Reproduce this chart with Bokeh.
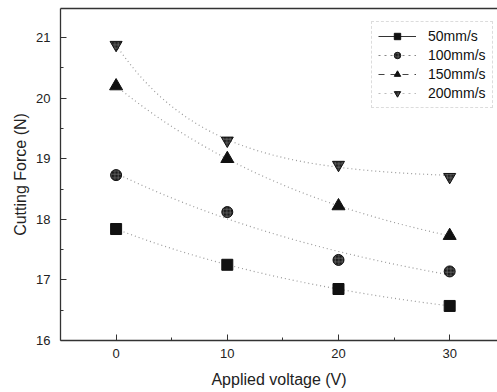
import numpy as np
from bokeh.plotting import figure
from bokeh.models import (Range1d, LinearAxis, FixedTicker, Legend, LegendItem,
                          ColumnDataSource)
from bokeh.embed import file_html
from bokeh.resources import INLINE

# Cutting force vs applied voltage for four cutting speeds
voltage = [0, 10, 20, 30]
force_50 = [17.84, 17.25, 16.85, 16.57]
force_100 = [18.73, 18.12, 17.33, 17.14]
force_150 = [20.20, 19.00, 18.22, 17.73]
force_200 = [20.88, 19.30, 18.90, 18.70]
speed_labels = ["50mm/s", "100mm/s", "150mm/s", "200mm/s"]
x_ticks = [0, 10, 20, 30]
y_ticks = [16, 17, 18, 19, 20, 21]

FONT = "Liberation Sans"


def exp_decay_fit(x, y):
    """Least-squares fit of y = y0 + A*exp(-x/t), scanning t."""
    x = np.asarray(x, float)
    y = np.asarray(y, float)
    best = None
    for t in np.linspace(2, 200, 2000):
        M = np.column_stack([np.ones_like(x), np.exp(-x / t)])
        c, *_ = np.linalg.lstsq(M, y, rcond=None)
        err = np.sum((M @ c - y) ** 2)
        if best is None or err < best[0]:
            best = (err, c, t)
    _, (y0, a), t = best
    return lambda xx: y0 + a * np.exp(-np.asarray(xx) / t)


p = figure(width=497, height=392, output_backend="svg", toolbar_location=None,
           x_range=Range1d(-5, 34.3), y_range=Range1d(16, 21.48),
           min_border_left=60, min_border_bottom=52, min_border_top=8,
           min_border_right=0)
p.outline_line_color = None
p.grid.visible = False
p.background_fill_color = "white"
p.border_fill_color = "white"

for ax, ticks in ((p.xaxis[0], x_ticks), (p.yaxis[0], y_ticks)):
    ax.ticker = FixedTicker(ticks=ticks,
                            minor_ticks=[t + (ticks[1] - ticks[0]) / 2 for t in ticks])
    ax.major_tick_in = 6
    ax.major_tick_out = 0
    ax.minor_tick_in = 3
    ax.minor_tick_out = 0
    ax.axis_line_color = "#333333"
    ax.axis_line_width = 1.3
    ax.major_tick_line_color = "#333333"
    ax.minor_tick_line_color = "#333333"
    ax.major_label_text_font = FONT
    ax.major_label_text_font_size = "13px"
    ax.major_label_text_color = "#222222"
    ax.axis_label_text_font = FONT
    ax.axis_label_text_font_size = "16px"
    ax.axis_label_text_font_style = "normal"
    ax.axis_label_text_color = "#222222"

p.xaxis.axis_label = "Applied voltage (V)"
p.yaxis.axis_label = "Cutting Force (N)"
p.xaxis.major_label_standoff = 8
p.yaxis.major_label_standoff = 10
p.xaxis.axis_label_standoff = 10
p.yaxis.axis_label_standoff = 4

# plain top border
top = LinearAxis(ticker=FixedTicker(ticks=[]), major_label_text_font_size="0px",
                 major_tick_out=0, minor_tick_out=0,
                 axis_line_color="#333333", axis_line_width=1.3)
p.add_layout(top, "above")

series = [force_50, force_100, force_150, force_200]
markers = ["square", "circle", "triangle", "inverted_triangle"]
sizes = [11, 11, 13, 12]
fills = ["#111111", "#1a1a1a", "#111111", "#222222"]
hatches = [None, "+", None, "+"]
legend_dash = ["solid", "dotted", "dashed", "dotted"]
legend_line_col = ["#333333", "#888888", "#444444", "#bbbbbb"]

xs_fit = np.linspace(min(voltage), max(voltage), 61)
items = []
for vals, lab, mk, sz, fc, hp, ld, lc in zip(series, speed_labels, markers, sizes,
                                             fills, hatches, legend_dash, legend_line_col):
    fit = exp_decay_fit(voltage, vals)
    p.line(xs_fit, fit(xs_fit), line_color="#9a9a9a",
           line_dash="1 3", line_width=1.2)
    src = ColumnDataSource(dict(x=voltage, y=vals))
    kw = dict(hatch_pattern=hp, hatch_color="#707070", hatch_scale=3.5,
              hatch_weight=0.7) if hp else {}
    sc = p.scatter("x", "y", source=src, marker=mk, size=sz, fill_color=fc,
                   line_color="#111111", **kw)
    # legend key line only (no plotted points)
    key = p.line(x=[np.nan], y=[np.nan], line_color=lc, line_dash=ld, line_width=1.2)
    items.append(LegendItem(label=lab, renderers=[key, sc]))

# bottom-left corner of the legend box, in screen units from the frame's corner
legend = Legend(items=items, location=(311, 232))
legend.label_text_font = FONT
legend.label_text_font_size = "14px"
legend.label_text_color = "#111111"
legend.glyph_width = 38
legend.glyph_height = 16
legend.label_standoff = 12
legend.spacing = 3
legend.padding = 6
legend.margin = 0
legend.border_line_color = "#bbbbbb"
legend.border_line_dash = "dotted"
legend.background_fill_alpha = 1
p.add_layout(legend)

open("out.html", "w").write(file_html(p, INLINE))
